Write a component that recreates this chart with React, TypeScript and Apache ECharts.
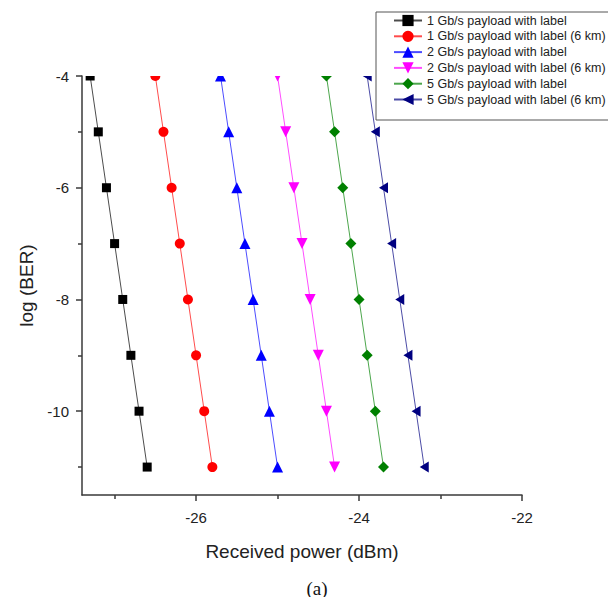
import React, { useEffect, useRef } from "react";
import * as echarts from "echarts";

// log(BER) levels measured for every configuration
const berLevels = [-4, -5, -6, -7, -8, -9, -10, -11];

// received power (dBm) at each BER level
const power1G = [-27.3, -27.2, -27.1, -27.0, -26.9, -26.8, -26.7, -26.6];
const power1G6km = [-26.5, -26.4, -26.3, -26.2, -26.1, -26.0, -25.9, -25.8];
const power2G = [-25.7, -25.6, -25.5, -25.4, -25.3, -25.2, -25.1, -25.0];
const power2G6km = [-25.0, -24.9, -24.8, -24.7, -24.6, -24.5, -24.4, -24.3];
const power5G = [-24.4, -24.3, -24.2, -24.1, -24.0, -23.9, -23.8, -23.7];
const power5G6km = [-23.9, -23.8, -23.7, -23.6, -23.5, -23.4, -23.3, -23.2];

const seriesNames = [
  "1 Gb/s payload with label",
  "1 Gb/s payload with label (6 km)",
  "2 Gb/s payload with label",
  "2 Gb/s payload with label (6 km)",
  "5 Gb/s payload with label",
  "5 Gb/s payload with label (6 km)",
];

// axis ticks and labels
const xMajorTicks = [-26, -24, -22];
const xMinorTicks = [-27, -25, -23];
const yMajorTicks = [-4, -6, -8, -10];
const yMinorTicks = [-5, -7, -9, -11];

const FONT = "Liberation Sans, Arial, sans-serif";
const AXIS_COLOR = "#3a3a3a";
const TEXT_COLOR = "#222";

const seriesPower = [power1G, power1G6km, power2G, power2G6km, power5G, power5G6km];
const seriesColors = ["#000000", "#ff0000", "#0000ff", "#ff00ff", "#008000", "#000080"];
const seriesSymbols: any[] = [
  "rect",
  "circle",
  "triangle",
  "path://M0,0L10,0L5,9Z",
  "path://M5,0L10,5L5,10L0,5Z",
  "path://M10,0L10,10L0,5Z",
];
const seriesSymbolSizes: any[] = [9, 10, 11, 11, 11, [9, 11]];

export default function App() {
  const ref = useRef<HTMLDivElement>(null);

  useEffect(() => {
    document.body.style.margin = "0";
    if (!ref.current) return;
    const chart = echarts.init(ref.current, null, { renderer: "svg" });

    const series = seriesPower.map((powers, i) => ({
      name: seriesNames[i],
      type: "line",
      data: powers.map((p, j) => [p, berLevels[j]]),
      symbol: seriesSymbols[i],
      symbolSize: seriesSymbolSizes[i],
      showAllSymbol: true,
      clip: false,
      color: seriesColors[i],
      itemStyle: { color: seriesColors[i] },
      lineStyle: { color: seriesColors[i], width: 1, opacity: 0.7 },
      z: 2,
    }));

    const baseX = {
      type: "value",
      min: -27.4,
      max: -22,
      position: "bottom",
      splitLine: { show: false },
    };
    const baseY = {
      type: "value",
      min: -11.5,
      max: -4,
      position: "left",
      splitLine: { show: false },
    };

    chart.setOption({
      animation: false,
      backgroundColor: "#ffffff",
      grid: { left: 82, right: 86, top: 76, bottom: 102, outerBoundsMode: "none" },
      legend: {
        orient: "vertical",
        left: 376,
        top: 12,
        data: seriesNames,
        itemWidth: 28,
        itemHeight: 14,
        itemGap: 2.8,
        padding: [2, 5, 14, 17],
        borderColor: "#555",
        borderWidth: 1,
        backgroundColor: "#fff",
        textStyle: { fontFamily: FONT, fontSize: 12.5, color: TEXT_COLOR },
        z: 10,
      },
      xAxis: [
        {
          ...baseX,
          name: "Received power (dBm)",
          nameLocation: "middle",
          nameGap: 47,
          nameTextStyle: { fontFamily: FONT, fontSize: 19, color: TEXT_COLOR },
          axisLine: { onZero: false, lineStyle: { color: AXIS_COLOR, width: 1.5 } },
          axisTick: { customValues: xMajorTicks, length: 6, lineStyle: { color: AXIS_COLOR, width: 1.5 } },
          axisLabel: {
            customValues: xMajorTicks,
            margin: 15,
            fontFamily: FONT,
            fontSize: 15,
            color: TEXT_COLOR,
          },
        },
        {
          ...baseX,
          axisLine: { show: false, onZero: false },
          axisTick: { customValues: xMinorTicks, length: 4, lineStyle: { color: AXIS_COLOR, width: 1.5 } },
          axisLabel: { show: false },
        },
      ],
      yAxis: [
        {
          ...baseY,
          name: "log (BER)",
          nameLocation: "middle",
          nameGap: 44,
          nameTextStyle: { fontFamily: FONT, fontSize: 19, color: TEXT_COLOR },
          axisLine: { onZero: false, lineStyle: { color: AXIS_COLOR, width: 1.5 } },
          axisTick: { customValues: yMajorTicks, length: 6, lineStyle: { color: AXIS_COLOR, width: 1.5 } },
          axisLabel: {
            customValues: yMajorTicks,
            margin: 13,
            fontFamily: FONT,
            fontSize: 15,
            color: TEXT_COLOR,
          },
        },
        {
          ...baseY,
          axisLine: { show: false, onZero: false },
          axisTick: { customValues: yMinorTicks, length: 4, lineStyle: { color: AXIS_COLOR, width: 1.5 } },
          axisLabel: { show: false },
        },
      ],
      graphic: [
        // plot area ends at log(BER) = -4: hide what lies above it
        {
          type: "rect",
          shape: { x: 84, y: 0, width: 291, height: 76 },
          style: { fill: "#ffffff" },
          z: 5,
          silent: true,
        },
        {
          type: "text",
          x: 317,
          y: 588,
          style: {
            text: "(a)",
            fontFamily: "Liberation Serif, Times New Roman, serif",
            fontSize: 19,
            fill: "#111",
            align: "center",
            verticalAlign: "middle",
          },
          z: 6,
        },
      ],
      series,
    });

    return () => chart.dispose();
  }, []);

  return <div ref={ref} style={{ width: 608, height: 597 }} />;
}
